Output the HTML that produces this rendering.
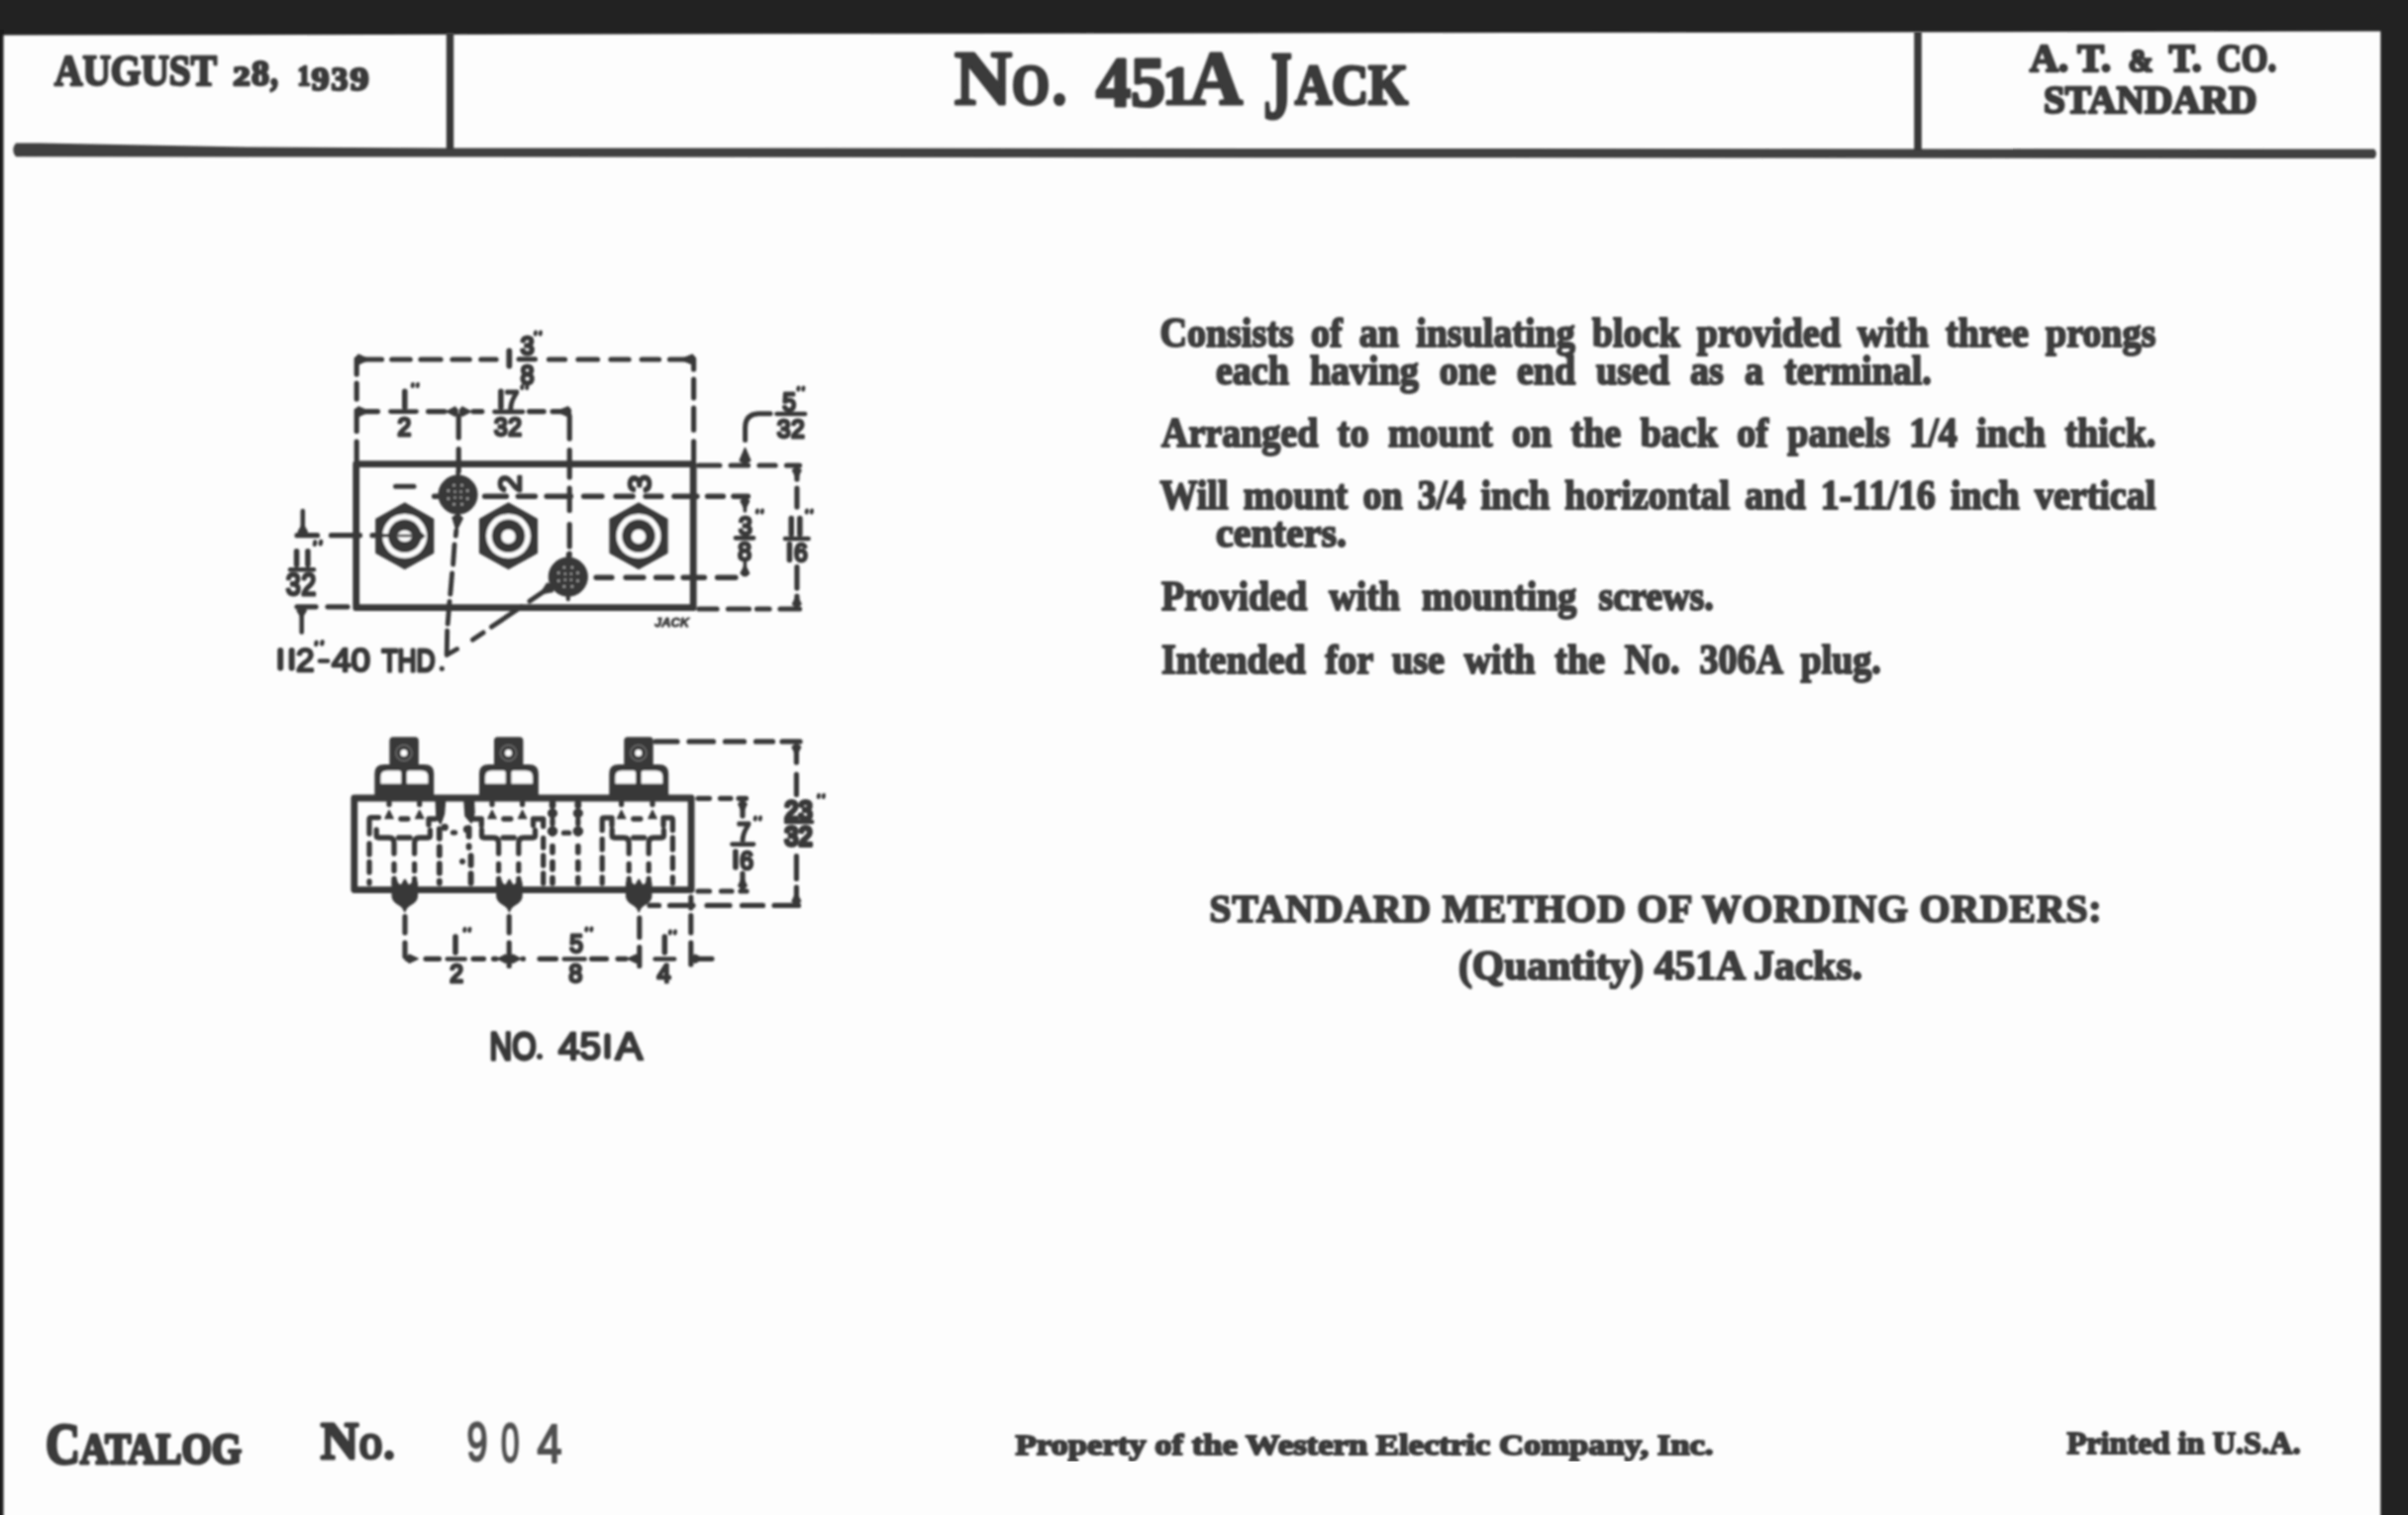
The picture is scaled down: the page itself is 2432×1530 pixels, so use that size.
<!DOCTYPE html>
<html><head><meta charset="utf-8"><title>No. 451A Jack</title>
<style>
html,body{margin:0;padding:0;background:#fdfdfd;}
body{width:2432px;height:1530px;overflow:hidden;font-family:"Liberation Serif",serif;}
svg{display:block;position:absolute;left:0;top:0;}
</style></head><body>
<svg width="2432" height="1530" viewBox="0 0 2432 1530">
<defs>
<filter id="soft" x="-2%" y="-2%" width="104%" height="104%"><feGaussianBlur stdDeviation="0.9"/></filter>
<filter id="soft2" x="-2%" y="-2%" width="104%" height="104%"><feGaussianBlur stdDeviation="1.2"/></filter>
</defs>
<rect x="0" y="0" width="2432" height="1530" fill="#fdfdfd"/>
<g fill="#3a3a3a" stroke="#3a3a3a" stroke-linejoin="round">
<g stroke="none" filter="url(#soft)">
<polygon points="-5,-5 2440,-5 2440,31.6 -5,35.6" fill="#232323"/>
<rect x="2404.3" y="-5" width="40" height="1545" fill="#242424"/>
<rect x="-5" y="30" width="8.5" height="1510" fill="#1c1c1c"/>
</g>
<g filter="url(#soft)">
<path d="M16 144.6 L40 144.6 L250 148.4 L450 149.4 L2398 150.6 Q2402 155.3 2398 160 L16 158.2 Q10.5 151.4 16 144.6Z" stroke="none" fill="#404040"/>
<rect x="450.8" y="33" width="7.4" height="118" stroke="none" fill="#383838"/>
<rect x="1933.2" y="32" width="7.6" height="120" stroke="none" fill="#383838"/>
</g>
<g filter="url(#soft)">
<text x="55" y="86" font-family="Liberation Serif, serif" font-size="44.5" font-weight="bold" textLength="164" lengthAdjust="spacingAndGlyphs" stroke="#3a3a3a" stroke-width="2.6" stroke-linejoin="round">AUGUST</text>
<text x="235.5" y="86" font-family="Liberation Serif, serif" font-size="27.5" font-weight="bold" textLength="17" lengthAdjust="spacingAndGlyphs" stroke="#3a3a3a" stroke-width="2.6" stroke-linejoin="round">2</text>
<text x="254" y="86" font-family="Liberation Serif, serif" font-size="36.5" font-weight="bold" textLength="18" lengthAdjust="spacingAndGlyphs" stroke="#3a3a3a" stroke-width="2.6" stroke-linejoin="round">8</text>
<text x="273" y="86" font-family="Liberation Serif, serif" font-size="40" font-weight="bold" textLength="8" lengthAdjust="spacingAndGlyphs" stroke="#3a3a3a" stroke-width="2.6" stroke-linejoin="round">,</text>
<text x="300.5" y="86" font-family="Liberation Serif, serif" font-size="29" font-weight="bold" textLength="13" lengthAdjust="spacingAndGlyphs" stroke="#3a3a3a" stroke-width="2.6" stroke-linejoin="round">1</text>
<text x="314.5" y="90.5" font-family="Liberation Serif, serif" font-size="34.5" font-weight="bold" textLength="18" lengthAdjust="spacingAndGlyphs" stroke="#3a3a3a" stroke-width="2.6" stroke-linejoin="round">9</text>
<text x="334.5" y="90.5" font-family="Liberation Serif, serif" font-size="34.5" font-weight="bold" textLength="17" lengthAdjust="spacingAndGlyphs" stroke="#3a3a3a" stroke-width="2.6" stroke-linejoin="round">3</text>
<text x="353.5" y="90.5" font-family="Liberation Serif, serif" font-size="34.5" font-weight="bold" textLength="19" lengthAdjust="spacingAndGlyphs" stroke="#3a3a3a" stroke-width="2.6" stroke-linejoin="round">9</text>
<text x="964" y="105" font-family="Liberation Serif, serif" font-size="78" font-weight="bold" textLength="58" lengthAdjust="spacingAndGlyphs" stroke="#3a3a3a" stroke-width="3.2" stroke-linejoin="round">N</text>
<text x="1022" y="105" font-family="Liberation Serif, serif" font-size="56" font-weight="bold" textLength="38" lengthAdjust="spacingAndGlyphs" stroke="#3a3a3a" stroke-width="3.2" stroke-linejoin="round">O</text>
<text x="1063" y="105" font-family="Liberation Serif, serif" font-size="62" font-weight="bold" textLength="14" lengthAdjust="spacingAndGlyphs" stroke="#3a3a3a" stroke-width="3.2" stroke-linejoin="round">.</text>
<text x="1107" y="107" font-family="Liberation Serif, serif" font-size="72" font-weight="bold" textLength="70" lengthAdjust="spacingAndGlyphs" stroke="#3a3a3a" stroke-width="3.2" stroke-linejoin="round">45</text>
<text x="1174.5" y="105" font-family="Liberation Serif, serif" font-size="54" font-weight="bold" textLength="29" lengthAdjust="spacingAndGlyphs" stroke="#3a3a3a" stroke-width="3.2" stroke-linejoin="round">1</text>
<text x="1201" y="105" font-family="Liberation Serif, serif" font-size="78" font-weight="bold" textLength="54" lengthAdjust="spacingAndGlyphs" stroke="#3a3a3a" stroke-width="3.2" stroke-linejoin="round">A</text>
<text x="1276" y="118.5" font-family="Liberation Serif, serif" font-size="97" font-weight="bold" textLength="29" lengthAdjust="spacingAndGlyphs" stroke="#3a3a3a" stroke-width="3.2" stroke-linejoin="round">J</text>
<text x="1308" y="105" font-family="Liberation Serif, serif" font-size="56" font-weight="bold" textLength="114" lengthAdjust="spacingAndGlyphs" stroke="#3a3a3a" stroke-width="3.2" stroke-linejoin="round">ACK</text>
<text x="2050" y="72" font-family="Liberation Serif, serif" font-size="40.5" font-weight="bold" textLength="82" lengthAdjust="spacingAndGlyphs" stroke="#3a3a3a" stroke-width="2.6" stroke-linejoin="round">A. T.</text>
<text x="2149.5" y="72" font-family="Liberation Serif, serif" font-size="31" font-weight="bold" textLength="25" lengthAdjust="spacingAndGlyphs" stroke="#3a3a3a" stroke-width="2.6" stroke-linejoin="round">&amp;</text>
<text x="2190.5" y="72" font-family="Liberation Serif, serif" font-size="40.5" font-weight="bold" textLength="33" lengthAdjust="spacingAndGlyphs" stroke="#3a3a3a" stroke-width="2.6" stroke-linejoin="round">T.</text>
<text x="2239" y="72" font-family="Liberation Serif, serif" font-size="40.5" font-weight="bold" textLength="60" lengthAdjust="spacingAndGlyphs" stroke="#3a3a3a" stroke-width="2.6" stroke-linejoin="round">CO.</text>
<text x="2064" y="113.5" font-family="Liberation Serif, serif" font-size="40.5" font-weight="bold" textLength="215.5" lengthAdjust="spacingAndGlyphs" stroke="#3a3a3a" stroke-width="2.6" stroke-linejoin="round">STANDARD</text>
</g>
<g filter="url(#soft)" fill="#3c3c3c">
<text transform="translate(1171.5,349.5) scale(0.905,1)" font-family="Liberation Serif, serif" font-weight="bold" font-size="42" word-spacing="8.54" stroke="#3c3c3c" stroke-width="2.1" stroke-linejoin="round">Consists of an insulating block provided with three prongs</text>
<text transform="translate(1228.0,387.5) scale(0.905,1)" font-family="Liberation Serif, serif" font-weight="bold" font-size="42" word-spacing="12.78" stroke="#3c3c3c" stroke-width="2.1" stroke-linejoin="round">each having one end used as a terminal.</text>
<text transform="translate(1173.0,451) scale(0.905,1)" font-family="Liberation Serif, serif" font-weight="bold" font-size="42" word-spacing="11.00" stroke="#3c3c3c" stroke-width="2.1" stroke-linejoin="round">Arranged to mount on the back of panels 1/4 inch thick.</text>
<text transform="translate(1171.5,514) scale(0.905,1)" font-family="Liberation Serif, serif" font-weight="bold" font-size="42" word-spacing="6.27" stroke="#3c3c3c" stroke-width="2.1" stroke-linejoin="round">Will mount on 3/4 inch horizontal and 1-11/16 inch vertical</text>
<text x="1228.0" y="551.5" font-family="Liberation Serif, serif" font-size="42" font-weight="bold" textLength="132" lengthAdjust="spacingAndGlyphs" stroke="#3c3c3c" stroke-width="2.1" stroke-linejoin="round">centers.</text>
<text transform="translate(1173.0,616) scale(0.905,1)" font-family="Liberation Serif, serif" font-weight="bold" font-size="42" word-spacing="13.91" stroke="#3c3c3c" stroke-width="2.1" stroke-linejoin="round">Provided with mounting screws.</text>
<text transform="translate(1173.0,680) scale(0.905,1)" font-family="Liberation Serif, serif" font-weight="bold" font-size="42" word-spacing="11.35" stroke="#3c3c3c" stroke-width="2.1" stroke-linejoin="round">Intended for use with the No. 306A plug.</text>
<text x="1221.5" y="931" font-family="Liberation Serif, serif" font-size="39.5" font-weight="bold" textLength="901" lengthAdjust="spacing" stroke="#3c3c3c" stroke-width="2.1" stroke-linejoin="round">STANDARD METHOD OF WORDING ORDERS:</text>
<text x="1473.0" y="989" font-family="Liberation Serif, serif" font-size="42" font-weight="bold" textLength="408" lengthAdjust="spacingAndGlyphs" stroke="#3c3c3c" stroke-width="2.1" stroke-linejoin="round">(Quantity) 451A Jacks.</text>
</g>
<g filter="url(#soft)">
<text x="46" y="1478" font-family="Liberation Serif, serif" font-size="60" font-weight="bold" textLength="35" lengthAdjust="spacingAndGlyphs" stroke="#3a3a3a" stroke-width="3.2" stroke-linejoin="round">C</text>
<text x="81" y="1477.5" font-family="Liberation Serif, serif" font-size="44" font-weight="bold" textLength="163" lengthAdjust="spacingAndGlyphs" stroke="#3a3a3a" stroke-width="3.2" stroke-linejoin="round">ATALOG</text>
<text x="324" y="1472.5" font-family="Liberation Serif, serif" font-size="53" font-weight="bold" textLength="38" lengthAdjust="spacingAndGlyphs" stroke="#3a3a3a" stroke-width="3.2" stroke-linejoin="round">N</text>
<text x="363" y="1472.5" font-family="Liberation Serif, serif" font-size="35" font-weight="bold" textLength="23" lengthAdjust="spacingAndGlyphs" stroke="#3a3a3a" stroke-width="3.2" stroke-linejoin="round">O</text>
<text x="388" y="1472.5" font-family="Liberation Serif, serif" font-size="40" font-weight="bold" textLength="10" lengthAdjust="spacingAndGlyphs" stroke="#3a3a3a" stroke-width="3.2" stroke-linejoin="round">.</text>
</g>
<g filter="url(#soft2)" fill="#505050">
<text x="471.5" y="1474.5" font-family="Liberation Sans, serif" font-size="56" font-weight="normal" textLength="21" lengthAdjust="spacingAndGlyphs" stroke="#505050" stroke-width="2.2">9</text>
<text x="506" y="1475.5" font-family="Liberation Sans, serif" font-size="56" font-weight="normal" textLength="18.5" lengthAdjust="spacingAndGlyphs" stroke="#505050" stroke-width="2.2">0</text>
<text x="542.5" y="1476.5" font-family="Liberation Sans, serif" font-size="56" font-weight="normal" textLength="25" lengthAdjust="spacingAndGlyphs" stroke="#505050" stroke-width="2.2">4</text>
</g>
<g filter="url(#soft)">
<text x="1025.5" y="1468.5" font-family="Liberation Serif, serif" font-size="30" font-weight="bold" textLength="705" lengthAdjust="spacingAndGlyphs" stroke="#3a3a3a" stroke-width="2.0" stroke-linejoin="round">Property of the Western Electric Company, Inc.</text>
<text x="2087.5" y="1467.5" font-family="Liberation Serif, serif" font-size="32" font-weight="bold" textLength="236" lengthAdjust="spacingAndGlyphs" stroke="#3a3a3a" stroke-width="2.0" stroke-linejoin="round">Printed in U.S.A.</text>
</g>
<g filter="url(#soft)" stroke="#383838" fill="#383838">
<rect x="359.7" y="468.7" width="340.5" height="145" fill="none" stroke-width="6.8"/>
<path d="M368.0 363H385.5 M395.8 363H414.2 M425.0 363H445.0 M457.0 363H474.2 M485.8 363H501.0 M554.5 363H570.5 M584.0 363H603.5 M617.0 363H635.0 M648.2 363H665.5 M676.5 363H692.0" fill="none" stroke-width="5.2" stroke-linecap="round"/>
<path d="M359.5 364.6 L362.0 367.8 L372.5 363.0 L362.0 358.2 L359.5 361.4Z" stroke-width="1.6"/>
<path d="M701.8 361.4 L699.3 358.2 L687.8 363.0 L699.3 367.8 L701.8 364.6Z" stroke-width="1.6"/>
<path d="M360.2 362.5V378.0 M360.2 387.0V403.0 M360.2 414.5V435.5 M360.2 446.0V464.0" fill="none" stroke-width="5.2" stroke-linecap="round"/>
<path d="M700.6 362.5V373.0 M700.6 383.2V401.8 M700.6 412.0V434.2 M700.6 445.8V464.5" fill="none" stroke-width="5.2" stroke-linecap="round"/>
<line x1="514.3" y1="354.5" x2="514.3" y2="369.5" stroke-width="5.8" stroke-linecap="round"/>
<line x1="524" y1="362.8" x2="540.5" y2="362.8" stroke-width="5" stroke-linecap="round"/>
<text x="532.5" y="357.5" text-anchor="middle" font-family="Liberation Sans, sans-serif" font-weight="normal" font-size="25" stroke-width="3.2" textLength="13.7" lengthAdjust="spacingAndGlyphs">3</text>
<text x="532.5" y="387.5" text-anchor="middle" font-family="Liberation Sans, sans-serif" font-weight="normal" font-size="27" stroke-width="3.2" textLength="13.7" lengthAdjust="spacingAndGlyphs">8</text>
<path d="M541 335.5l-0.4 2 M546 335.5l-0.4 2" stroke-width="3.9" stroke-linecap="round" fill="none"/>
<path d="M366.0 415.6H381.5 M432.6 415.6H449.0 M478.0 415.6H486.8 M534.5 415.6H549.2" fill="none" stroke-width="5.2" stroke-linecap="round"/>
<path d="M359.5 417.2 L362.0 420.4 L372.5 415.6 L362.0 410.9 L359.5 414.0Z" stroke-width="1.6"/>
<path d="M462.0 414.0 L459.5 411.1 L451.0 415.6 L459.5 420.1 L462.0 417.2Z" stroke-width="1.6"/>
<path d="M464.5 417.2 L467.0 420.1 L475.5 415.6 L467.0 411.1 L464.5 414.0Z" stroke-width="1.6"/>
<path d="M576.3 414.0 L573.8 410.9 L562.3 415.6 L573.8 420.4 L576.3 417.2Z" stroke-width="1.6"/>
<path d="M558.0 415.6H573.0" fill="none" stroke-width="5.2" stroke-linecap="round"/>
<path d="M408.8 395.3V411.3" stroke-width="5.6" stroke-linecap="round" fill="none"/>
<line x1="394.5" y1="415.6" x2="420.5" y2="415.6" stroke-width="4.7" stroke-linecap="round"/>
<text x="408.3" y="440" text-anchor="middle" font-family="Liberation Sans, sans-serif" font-weight="normal" font-size="26.5" stroke-width="3" textLength="13.7" lengthAdjust="spacingAndGlyphs">2</text>
<path d="M417 388l-0.4 2 M422 388l-0.4 2" stroke-width="3.9" stroke-linecap="round" fill="none"/>
<path d="M505.9 395.3V411.3" stroke-width="5.6" stroke-linecap="round" fill="none"/>
<text x="517.2" y="412.8" text-anchor="middle" font-family="Liberation Sans, sans-serif" font-weight="normal" font-size="26.5" stroke-width="3" textLength="13.7" lengthAdjust="spacingAndGlyphs">7</text>
<line x1="499.5" y1="415.8" x2="528" y2="415.8" stroke-width="4.7" stroke-linecap="round"/>
<text x="505.9" y="440" text-anchor="middle" font-family="Liberation Sans, sans-serif" font-weight="normal" font-size="26.5" stroke-width="3" textLength="13.7" lengthAdjust="spacingAndGlyphs">3</text>
<text x="520.1" y="440" text-anchor="middle" font-family="Liberation Sans, sans-serif" font-weight="normal" font-size="26.5" stroke-width="3" textLength="13.7" lengthAdjust="spacingAndGlyphs">2</text>
<path d="M527.5 390l-0.4 2 M532.5 390l-0.4 2" stroke-width="3.9" stroke-linecap="round" fill="none"/>
<path d="M463.2 420.0V442.0 M463.2 453.5V476.0" fill="none" stroke-width="5.2" stroke-linecap="round"/>
<path d="M575.2 420.0V443.0 M575.2 454.5V482.0 M575.2 493.0V515.5 M575.2 529.5V552.0 M575.2 559.0V561.0" fill="none" stroke-width="5.2" stroke-linecap="round"/>
<path d="M778 417.8 H766 Q752.6 418.5 752.6 432 V444.5" fill="none" stroke-width="5" stroke-linecap="round"/>
<path d="M754.1 467.5 L757.8 465.0 L752.5 452.5 L747.2 465.0 L750.9 467.5Z" stroke-width="1.6"/>
<text x="797.0" y="415" text-anchor="middle" font-family="Liberation Sans, sans-serif" font-weight="normal" font-size="26.5" stroke-width="3" textLength="13.7" lengthAdjust="spacingAndGlyphs">5</text>
<line x1="784.5" y1="418" x2="813" y2="418" stroke-width="4.7" stroke-linecap="round"/>
<text x="791.7" y="442" text-anchor="middle" font-family="Liberation Sans, sans-serif" font-weight="normal" font-size="26.5" stroke-width="3" textLength="13.7" lengthAdjust="spacingAndGlyphs">3</text>
<text x="805.9" y="442" text-anchor="middle" font-family="Liberation Sans, sans-serif" font-weight="normal" font-size="26.5" stroke-width="3" textLength="13.7" lengthAdjust="spacingAndGlyphs">2</text>
<path d="M806.5 391.5l-0.4 2 M811.5 391.5l-0.4 2" stroke-width="3.9" stroke-linecap="round" fill="none"/>
<path d="M705.8 470H726.8 M738.2 470H755.5 M767.0 470H783.0 M794.5 470H807.5" fill="none" stroke-width="5.2" stroke-linecap="round"/>
<path d="M706.0 615H724.0 M735.5 615H756.5 M764.5 615H777.0 M788.0 615H807.5" fill="none" stroke-width="5.2" stroke-linecap="round"/>
<path d="M438.6 501.2H441.9 M489.6 501.2H511.4 M523.3 501.2H540.4 M552.1 501.2H576.4 M589.6 501.2H607.9 M622.1 501.2H639.1 M652.1 501.2H667.9 M680.9 501.2H703.9 M714.6 501.2H730.4 M740.9 501.2H755.4" fill="none" stroke-width="5.4" stroke-linecap="round"/>
<path d="M602.1 583.2H617.9 M632.1 583.2H649.9 M662.6 583.2H678.9 M690.1 583.2H711.4 M724.6 583.2H742.9" fill="none" stroke-width="5.4" stroke-linecap="round"/>
<path d="M804.9 474.0V484.0 M804.9 493.0V512.0 M804.9 572.5V594.0 M804.9 602.0V611.0" fill="none" stroke-width="5.2" stroke-linecap="round"/>
<path d="M803.2 472.5 L800.5 475.0 L804.8 483.5 L809.0 475.0 L806.4 472.5Z" stroke-width="1.6"/>
<path d="M806.4 612.5 L809.0 610.0 L804.8 601.5 L800.5 610.0 L803.2 612.5Z" stroke-width="1.6"/>
<path d="M799.2 523.5V539.5" stroke-width="5.6" stroke-linecap="round" fill="none"/>
<path d="M807.8 523.5V539.5" stroke-width="5.6" stroke-linecap="round" fill="none"/>
<line x1="793" y1="544" x2="816.5" y2="544" stroke-width="4.7" stroke-linecap="round"/>
<path d="M797.4 549.5V565.5" stroke-width="5.6" stroke-linecap="round" fill="none"/>
<text x="808.8" y="567" text-anchor="middle" font-family="Liberation Sans, sans-serif" font-weight="normal" font-size="26.5" stroke-width="3" textLength="13.7" lengthAdjust="spacingAndGlyphs">6</text>
<path d="M815 515.5l-0.4 2 M820 515.5l-0.4 2" stroke-width="3.9" stroke-linecap="round" fill="none"/>
<path d="M750.8 503.5 L748.1 506.0 L752.4 514.5 L756.6 506.0 L754.0 503.5Z" stroke-width="1.6"/>
<line x1="752.4" y1="512" x2="752.4" y2="516" stroke-width="3.6" stroke-linecap="round"/>
<path d="M754.0 581.5 L756.6 579.0 L752.4 570.5 L748.1 579.0 L750.8 581.5Z" stroke-width="1.6"/>
<line x1="752.4" y1="568" x2="752.4" y2="572" stroke-width="3.6" stroke-linecap="round"/>
<text x="752.8" y="539.5" text-anchor="middle" font-family="Liberation Sans, sans-serif" font-weight="normal" font-size="26.5" stroke-width="3" textLength="13.7" lengthAdjust="spacingAndGlyphs">3</text>
<line x1="743" y1="543.3" x2="761" y2="543.3" stroke-width="4.7" stroke-linecap="round"/>
<text x="752.0" y="566" text-anchor="middle" font-family="Liberation Sans, sans-serif" font-weight="normal" font-size="26.5" stroke-width="3" textLength="13.7" lengthAdjust="spacingAndGlyphs">8</text>
<path d="M765 515.5l-0.4 2 M770 515.5l-0.4 2" stroke-width="3.9" stroke-linecap="round" fill="none"/>
<path d="M300.0 540.7H320.5 M334.5 540.7H363.5 M376.0 540.7H386.0" fill="none" stroke-width="5.2" stroke-linecap="round"/>
<path d="M300.0 612.8H319.0 M331.0 612.8H351.0" fill="none" stroke-width="5.2" stroke-linecap="round"/>
<line x1="305.8" y1="516" x2="305.8" y2="537" stroke-width="4.6" stroke-linecap="round"/>
<path d="M307.4 539.5 L310.3 537.0 L305.8 529.5 L301.3 537.0 L304.2 539.5Z" stroke-width="1.6"/>
<line x1="304.7" y1="616" x2="304.7" y2="638.5" stroke-width="4.6" stroke-linecap="round"/>
<path d="M303.1 614.0 L300.2 616.5 L304.7 624.0 L309.2 616.5 L306.3 614.0Z" stroke-width="1.6"/>
<line x1="299.6" y1="556.7" x2="299.6" y2="570.3" stroke-width="5.6" stroke-linecap="round"/>
<line x1="310.9" y1="556.7" x2="310.9" y2="570.3" stroke-width="5.6" stroke-linecap="round"/>
<path d="M318.3 547.3l-0.5 2.6 M324.2 546.8l-0.5 2.6" stroke-width="4.3" stroke-linecap="round" fill="none"/>
<line x1="293" y1="575.3" x2="317" y2="575.3" stroke-width="4.4" stroke-linecap="round"/>
<text x="296.2" y="600.5" text-anchor="middle" font-family="Liberation Sans, sans-serif" font-weight="normal" font-size="31" stroke-width="3" textLength="15.0" lengthAdjust="spacingAndGlyphs">3</text>
<text x="311.8" y="600.5" text-anchor="middle" font-family="Liberation Sans, sans-serif" font-weight="normal" font-size="31" stroke-width="3" textLength="15.0" lengthAdjust="spacingAndGlyphs">2</text>
<polygon points="408.75,508.09999999999997 437.65,524.3 437.65,558.3 408.75,574.5 379.85,558.3 379.85,524.3" stroke-width="1.4"/>
<circle cx="408.75" cy="541.3" r="22.4" fill="#fdfdfd" stroke="none"/>
<circle cx="408.75" cy="541.3" r="16.8" stroke="none"/>
<ellipse cx="408.75" cy="541.3" rx="7.2" ry="5.8" fill="#fdfdfd" stroke="none"/>
<path d="M401.75 541.0H415.75" stroke-width="2.6" fill="none"/>
<path d="M378.75 540.6999999999999H393.75" stroke-width="3.6" fill="none" stroke-linecap="round"/>
<path d="M423.75 536.3 L429.25 541.3 L423.75 546.3Z" stroke-width="1"/>
<polygon points="513.5,508.09999999999997 542.4,524.3 542.4,558.3 513.5,574.5 484.6,558.3 484.6,524.3" stroke-width="1.4"/>
<circle cx="513.5" cy="541.3" r="22.4" fill="#fdfdfd" stroke="none"/>
<circle cx="513.5" cy="541.3" r="16.8" stroke="none"/>
<circle cx="513.5" cy="541.9" r="7.2" fill="#fdfdfd" stroke="none"/>
<polygon points="645,508.09999999999997 673.9,524.3 673.9,558.3 645,574.5 616.1,558.3 616.1,524.3" stroke-width="1.4"/>
<circle cx="645" cy="541.3" r="22.4" fill="#fdfdfd" stroke="none"/>
<circle cx="645" cy="541.3" r="16.8" stroke="none"/>
<circle cx="645" cy="541.9" r="7.2" fill="#fdfdfd" stroke="none"/>
<circle cx="462.5" cy="499.6" r="19.6" stroke-width="1"/>
<path d="M462.5 476.5V522.2" stroke-width="4" stroke-linecap="round" fill="none"/>
<circle cx="472.2" cy="503.6" r="1.5" fill="#9a9a9a" stroke="none"/>
<circle cx="466.5" cy="509.3" r="1.5" fill="#9a9a9a" stroke="none"/>
<circle cx="458.5" cy="509.3" r="1.5" fill="#9a9a9a" stroke="none"/>
<circle cx="452.8" cy="503.6" r="1.5" fill="#9a9a9a" stroke="none"/>
<circle cx="452.8" cy="495.6" r="1.5" fill="#9a9a9a" stroke="none"/>
<circle cx="458.5" cy="489.9" r="1.5" fill="#9a9a9a" stroke="none"/>
<circle cx="466.5" cy="489.9" r="1.5" fill="#9a9a9a" stroke="none"/>
<circle cx="472.2" cy="495.6" r="1.5" fill="#9a9a9a" stroke="none"/>
<circle cx="465.5" cy="502.6" r="1.3" fill="#989898" stroke="none"/>
<circle cx="459.5" cy="502.6" r="1.3" fill="#989898" stroke="none"/>
<circle cx="459.5" cy="496.6" r="1.3" fill="#989898" stroke="none"/>
<circle cx="465.5" cy="496.6" r="1.3" fill="#989898" stroke="none"/>
<circle cx="573.8" cy="582.6" r="19.6" stroke-width="1"/>
<path d="M573.8 559.5V605.2" stroke-width="4" stroke-linecap="round" fill="none"/>
<circle cx="583.5" cy="586.6" r="1.5" fill="#9a9a9a" stroke="none"/>
<circle cx="577.8" cy="592.3" r="1.5" fill="#9a9a9a" stroke="none"/>
<circle cx="569.8" cy="592.3" r="1.5" fill="#9a9a9a" stroke="none"/>
<circle cx="564.1" cy="586.6" r="1.5" fill="#9a9a9a" stroke="none"/>
<circle cx="564.1" cy="578.6" r="1.5" fill="#9a9a9a" stroke="none"/>
<circle cx="569.8" cy="572.9" r="1.5" fill="#9a9a9a" stroke="none"/>
<circle cx="577.8" cy="572.9" r="1.5" fill="#9a9a9a" stroke="none"/>
<circle cx="583.5" cy="578.6" r="1.5" fill="#9a9a9a" stroke="none"/>
<circle cx="576.8" cy="585.6" r="1.3" fill="#989898" stroke="none"/>
<circle cx="570.8" cy="585.6" r="1.3" fill="#989898" stroke="none"/>
<circle cx="570.8" cy="579.6" r="1.3" fill="#989898" stroke="none"/>
<circle cx="576.8" cy="579.6" r="1.3" fill="#989898" stroke="none"/>
<path d="M460.7 520.4 L457.1 522.6 L461.1 535.5 L467.1 523.4 L463.9 520.6Z" stroke-width="1.6"/>
<path d="M460.8 536L460.3 541 M459 550L457.6 570 M456.6 579L454.8 600 M454 607.5L452.2 630 M451.7 637L451.2 661.5L461.5 655.5" fill="none" stroke-width="4.9" stroke-linecap="round"/>
<path d="M477.5 646L488 639 M496.5 633L526.5 612.8 M535 607L554 594" fill="none" stroke-width="5" stroke-linecap="round"/>
<path d="M556.6 590.7 L552.6 589.3 L545.9 599.8 L558.2 597.5 L558.4 593.3Z" stroke-width="1.6"/>
<line x1="399.5" y1="491.3" x2="418" y2="491.3" stroke-width="5" stroke-linecap="round"/>
<text transform="translate(525.5,497.5) rotate(-90)" font-family="Liberation Sans, sans-serif" font-weight="normal" font-size="31" stroke-width="2.8" textLength="18" lengthAdjust="spacingAndGlyphs">2</text>
<text transform="translate(656.8,497.5) rotate(-90)" font-family="Liberation Sans, sans-serif" font-weight="normal" font-size="31" stroke-width="2.8" textLength="18" lengthAdjust="spacingAndGlyphs">3</text>
<text x="661" y="633" font-family="Liberation Sans, sans-serif" font-weight="bold" font-style="italic" font-size="12.5" textLength="35" lengthAdjust="spacingAndGlyphs" stroke-width="0.8">JACK</text>
<line x1="283.2" y1="657" x2="283.2" y2="674.5" stroke-width="6" stroke-linecap="round"/>
<line x1="294.6" y1="657" x2="294.6" y2="674.5" stroke-width="6" stroke-linecap="round"/>
<text x="299" y="677.5" font-family="Liberation Sans, sans-serif" font-weight="normal" font-size="33" stroke-width="2.5" textLength="18.5" lengthAdjust="spacingAndGlyphs">2</text>
<path d="M319.6 648.6l-0.4 2.2 M325.6 648.2l-0.4 2.2" stroke-width="4.3" stroke-linecap="round" fill="none"/>
<line x1="323" y1="667.5" x2="331" y2="667.5" stroke-width="4.6" stroke-linecap="round"/>
<text x="335" y="677.5" font-family="Liberation Sans, sans-serif" font-weight="normal" font-size="33" stroke-width="2.5" textLength="39" lengthAdjust="spacingAndGlyphs">40</text>
<text x="385.5" y="677.5" font-family="Liberation Sans, sans-serif" font-weight="normal" font-size="32" stroke-width="3.1" textLength="54" lengthAdjust="spacingAndGlyphs">THD</text>
<circle cx="446.3" cy="675.3" r="2.2"/>
</g>
<g filter="url(#soft)" stroke="#383838" fill="#383838">
<rect x="357.8" y="806" width="340.3" height="92.6" fill="none" stroke-width="6.8"/>
<rect x="394.1" y="745" width="28" height="29" rx="3.2" stroke-width="1.5"/>
<circle cx="407.90000000000003" cy="760.4" r="8" fill="none" stroke="#6a6a6a" stroke-width="1.6"/>
<circle cx="407.90000000000003" cy="760.4" r="3.4" fill="#fdfdfd" stroke="none"/>
<path d="M379.1 806 V781 Q379.1 772.8 388.1 772.8 H428.6 Q437.5 772.8 437.5 781 V806Z" stroke-width="1.5"/>
<path d="M384.5 791.6 V784.5 Q384.5 778.2 391.1 778.2 H403.1 Q405.1 778.2 405.1 780.5 V791.6Z" fill="#fdfdfd" stroke="none"/>
<path d="M432.3 791.6 V784.5 Q432.3 778.2 425.6 778.2 H412.90000000000003 Q410.90000000000003 778.2 410.90000000000003 780.5 V791.6Z" fill="#fdfdfd" stroke="none"/>
<rect x="499.70000000000005" y="745" width="28" height="29" rx="3.2" stroke-width="1.5"/>
<circle cx="513.5" cy="760.4" r="8" fill="none" stroke="#6a6a6a" stroke-width="1.6"/>
<circle cx="513.5" cy="760.4" r="3.4" fill="#fdfdfd" stroke="none"/>
<path d="M484.70000000000005 806 V781 Q484.70000000000005 772.8 493.70000000000005 772.8 H534.2 Q543.1 772.8 543.1 781 V806Z" stroke-width="1.5"/>
<path d="M490.1 791.6 V784.5 Q490.1 778.2 496.70000000000005 778.2 H508.70000000000005 Q510.70000000000005 778.2 510.70000000000005 780.5 V791.6Z" fill="#fdfdfd" stroke="none"/>
<path d="M537.9000000000001 791.6 V784.5 Q537.9000000000001 778.2 531.2 778.2 H518.5 Q516.5 778.2 516.5 780.5 V791.6Z" fill="#fdfdfd" stroke="none"/>
<rect x="631" y="745" width="28" height="29" rx="3.2" stroke-width="1.5"/>
<circle cx="644.8" cy="760.4" r="8" fill="none" stroke="#6a6a6a" stroke-width="1.6"/>
<circle cx="644.8" cy="760.4" r="3.4" fill="#fdfdfd" stroke="none"/>
<path d="M616 806 V781 Q616 772.8 625 772.8 H665.5 Q674.4 772.8 674.4 781 V806Z" stroke-width="1.5"/>
<path d="M621.4 791.6 V784.5 Q621.4 778.2 628 778.2 H640 Q642 778.2 642 780.5 V791.6Z" fill="#fdfdfd" stroke="none"/>
<path d="M669.2 791.6 V784.5 Q669.2 778.2 662.5 778.2 H649.8 Q647.8 778.2 647.8 780.5 V791.6Z" fill="#fdfdfd" stroke="none"/>
<path d="M396.40000000000003 892 V905.5 Q397.1 910.5 402.6 913.2 Q407.40000000000003 915.5 408.8 920.5 Q410.20000000000005 915.5 415.0 913.2 Q420.6 910.5 421.20000000000005 905.5 V892 L418.8 885.5 L416.0 892.5 L412.6 895 L408.90000000000003 888.5 L405.1 895 L401.6 892.5 L398.8 885.5Z" stroke-width="1.8"/>
<path d="M502.00000000000006 892 V905.5 Q502.70000000000005 910.5 508.20000000000005 913.2 Q513.0 915.5 514.4000000000001 920.5 Q515.8000000000001 915.5 520.6 913.2 Q526.2 910.5 526.8000000000001 905.5 V892 L524.4000000000001 885.5 L521.6 892.5 L518.2 895 L514.5 888.5 L510.70000000000005 895 L507.20000000000005 892.5 L504.40000000000003 885.5Z" stroke-width="1.8"/>
<path d="M632.8 892 V905.5 Q633.5 910.5 639 913.2 Q643.8 915.5 645.2 920.5 Q646.6 915.5 651.4 913.2 Q657 910.5 657.6 905.5 V892 L655.2 885.5 L652.4 892.5 L649 895 L645.3 888.5 L641.5 895 L638 892.5 L635.2 885.5Z" stroke-width="1.8"/>
<path d="M393 811.0V812.5" fill="none" stroke-width="5.3" stroke-linecap="round"/>
<path d="M423.7 811.0V812.5" fill="none" stroke-width="5.3" stroke-linecap="round"/>
<path d="M393 818.5L397.0 826.5L389.0 826.5Z" stroke-width="1.6"/>
<path d="M423.7 818.5L427.7 826.5L419.7 826.5Z" stroke-width="1.6"/>
<path d="M404.9 827H411.8" fill="none" stroke-width="5.3" stroke-linecap="round"/>
<path d="M380.2 838 V844 Q380.2 846 382.7 846 H393 Q398 846 398 851.5 V862 M402.5 846 H414.1 M418.6 862 V851.5 Q418.6 846 423.6 846 H431.90000000000003 Q434.40000000000003 846 434.40000000000003 844 V838.5" fill="none" stroke-width="5.3" stroke-linecap="round"/>
<path d="M398 872.5V879.5 M398 887.5V892.0" fill="none" stroke-width="5.3" stroke-linecap="round"/>
<path d="M418.6 872.5V879.5 M418.6 887.5V892.0" fill="none" stroke-width="5.3" stroke-linecap="round"/>
<path d="M373 842 V827.5 Q373 825.6 375 825.6 H382.5" fill="none" stroke-width="5.3" stroke-linecap="round"/>
<path d="M373 852.0V863.0 M373 870.5V881.0 M373 890.0V892.0" fill="none" stroke-width="5.3" stroke-linecap="round"/>
<path d="M433 833 V827 H439.5" fill="none" stroke-width="5.3" stroke-linecap="round"/>
<path d="M440.3 809 L449.5 809 L448.5 822 L445 832 L441 826Z" stroke-width="1.5"/>
<path d="M443.8 837.2V846.8 M443.8 855.2V863.8 M443.8 872.2V881.8 M443.8 889.7V891.8" fill="none" stroke-width="5.8999999999999995" stroke-linecap="round"/>
<circle cx="449.2" cy="835.5" r="3.3"/><circle cx="471.8" cy="837.5" r="3.6"/><circle cx="467" cy="870" r="2.6"/>
<path d="M457.5 840.8H459.5" fill="none" stroke-width="5.3" stroke-linecap="round"/>
<path d="M469 809 L478.5 809 L479 821 L476 831 L470 824Z" stroke-width="1.5"/>
<path d="M473.6 836.2V844.8 M473.6 854.2V855.8" fill="none" stroke-width="5.8999999999999995" stroke-linecap="round"/>
<path d="M475.6 864.2V873.8 M475.6 882.2V891.8" fill="none" stroke-width="5.8999999999999995" stroke-linecap="round"/>
<path d="M497 811.0V812.5" fill="none" stroke-width="5.3" stroke-linecap="round"/>
<path d="M527.6 811.0V812.5" fill="none" stroke-width="5.3" stroke-linecap="round"/>
<path d="M497 818.5L501.0 826.5L493.0 826.5Z" stroke-width="1.6"/>
<path d="M527.6 818.5L531.6 826.5L523.6 826.5Z" stroke-width="1.6"/>
<path d="M508.8 827H515.8" fill="none" stroke-width="5.3" stroke-linecap="round"/>
<path d="M486.5 838 V844 Q486.5 846 489.0 846 H498.6 Q503.6 846 503.6 851.5 V862 M508.1 846 H519.3 M523.8 862 V851.5 Q523.8 846 528.8 846 H538.0 Q540.5 846 540.5 844 V838.5" fill="none" stroke-width="5.3" stroke-linecap="round"/>
<path d="M503.6 872.5V879.5 M503.6 887.5V892.0" fill="none" stroke-width="5.3" stroke-linecap="round"/>
<path d="M523.8 872.5V879.5 M523.8 887.5V892.0" fill="none" stroke-width="5.3" stroke-linecap="round"/>
<path d="M476.5 827 H486.3 V833.5" fill="none" stroke-width="5.3" stroke-linecap="round"/>
<path d="M538.5 833.5 V827 H548.7 V834.5" fill="none" stroke-width="5.3" stroke-linecap="round"/>
<path d="M548.7 846.5V856.0 M548.7 864.0V874.0 M548.7 882.0V892.0" fill="none" stroke-width="5.3" stroke-linecap="round"/>
<path d="M558 811.6V813.4" fill="none" stroke-width="6.8" stroke-linecap="round"/>
<circle cx="558" cy="821.3" r="4.6"/><circle cx="558" cy="839.5" r="4.8"/>
<path d="M558 828.0V832.0" fill="none" stroke-width="5.3" stroke-linecap="round"/>
<path d="M558 854.7V860.8 M558 870.7V877.8 M558 886.7V891.8" fill="none" stroke-width="5.7" stroke-linecap="round"/>
<path d="M583.8 811.6V813.4" fill="none" stroke-width="6.8" stroke-linecap="round"/>
<circle cx="583.8" cy="821.3" r="4.6"/><circle cx="583.8" cy="839.5" r="4.8"/>
<path d="M583.8 828.0V832.0" fill="none" stroke-width="5.3" stroke-linecap="round"/>
<path d="M583.8 854.7V860.8 M583.8 870.7V877.8 M583.8 886.7V891.8" fill="none" stroke-width="5.7" stroke-linecap="round"/>
<path d="M569.5 841.2H574.5" fill="none" stroke-width="5.3" stroke-linecap="round"/>
<path d="M627.6 811.0V812.5" fill="none" stroke-width="5.3" stroke-linecap="round"/>
<path d="M659 811.0V812.5" fill="none" stroke-width="5.3" stroke-linecap="round"/>
<path d="M627.6 818.5L631.6 826.5L623.6 826.5Z" stroke-width="1.6"/>
<path d="M659 818.5L663.0 826.5L655.0 826.5Z" stroke-width="1.6"/>
<path d="M639.8 827H646.8" fill="none" stroke-width="5.3" stroke-linecap="round"/>
<path d="M618.2 838 V844 Q618.2 846 620.7 846 H630.2 Q635.2 846 635.2 851.5 V862 M639.7 846 H650.7 M655.2 862 V851.5 Q655.2 846 660.2 846 H667.9 Q670.4 846 670.4 844 V838.5" fill="none" stroke-width="5.3" stroke-linecap="round"/>
<path d="M635.2 872.5V879.5 M635.2 887.5V892.0" fill="none" stroke-width="5.3" stroke-linecap="round"/>
<path d="M655.2 872.5V879.5 M655.2 887.5V892.0" fill="none" stroke-width="5.3" stroke-linecap="round"/>
<path d="M608.2 838.5 V827.5 Q608.2 825.8 610 825.8 H618 V833.5" fill="none" stroke-width="5.3" stroke-linecap="round"/>
<path d="M608.2 847.5V858.0 M608.2 866.0V878.0 M608.2 886.0V892.0" fill="none" stroke-width="5.3" stroke-linecap="round"/>
<path d="M670 833.5 V825.8 H677.5 Q679.4 825.8 679.4 828 V838.5" fill="none" stroke-width="5.3" stroke-linecap="round"/>
<path d="M679.4 846.0V858.0 M679.4 866.0V877.0 M679.4 886.0V892.0" fill="none" stroke-width="5.3" stroke-linecap="round"/>
<path d="M409 925.5V942.0 M409 952.0V966.0" fill="none" stroke-width="5.2" stroke-linecap="round"/>
<path d="M514.2 925.5V942.0 M514.2 952.0V975.5" fill="none" stroke-width="5.2" stroke-linecap="round"/>
<path d="M645.8 927.0V946.5 M645.8 956.5V975.5" fill="none" stroke-width="5.2" stroke-linecap="round"/>
<path d="M697.8 906.0V917.0 M697.8 924.5V942.0 M697.8 952.0V974.0" fill="none" stroke-width="5.2" stroke-linecap="round"/>
<path d="M411.0 968.3H411.1 M430.0 968.3H443.5 M478.0 968.3H488.5 M498.5 968.3H501.0 M528.0 968.3H528.5 M545.0 968.3H561.5 M597.5 968.3H612.5 M624.0 968.3H632.0 M702.0 968.3H719.0" fill="none" stroke-width="5.2" stroke-linecap="round"/>
<path d="M411.0 969.9 L413.5 972.3 L422.0 968.3 L413.5 964.3 L411.0 966.7Z" stroke-width="1.6"/>
<path d="M513.0 966.7 L510.5 964.3 L503.0 968.3 L510.5 972.3 L513.0 969.9Z" stroke-width="1.6"/>
<path d="M515.5 969.9 L518.0 972.3 L525.5 968.3 L518.0 964.3 L515.5 966.7Z" stroke-width="1.6"/>
<path d="M645.0 966.7 L642.5 964.3 L634.0 968.3 L642.5 972.3 L645.0 969.9Z" stroke-width="1.6"/>
<path d="M699.5 969.9 L702.0 972.3 L709.5 968.3 L702.0 964.3 L699.5 966.7Z" stroke-width="1.6"/>
<path d="M460.0 946.0V962.0" stroke-width="5.6" stroke-linecap="round" fill="none"/>
<line x1="451.8" y1="968.5" x2="469.6" y2="968.5" stroke-width="4.7" stroke-linecap="round"/>
<text x="461.0" y="992" text-anchor="middle" font-family="Liberation Sans, sans-serif" font-weight="normal" font-size="26.5" stroke-width="3" textLength="13.7" lengthAdjust="spacingAndGlyphs">2</text>
<path d="M469.5 938l-0.4 2 M474.5 938l-0.4 2" stroke-width="3.9" stroke-linecap="round" fill="none"/>
<text x="582.0" y="962" text-anchor="middle" font-family="Liberation Sans, sans-serif" font-weight="normal" font-size="26.5" stroke-width="3" textLength="13.7" lengthAdjust="spacingAndGlyphs">5</text>
<line x1="569.8" y1="968.5" x2="590.6" y2="968.5" stroke-width="4.7" stroke-linecap="round"/>
<text x="581.3" y="992" text-anchor="middle" font-family="Liberation Sans, sans-serif" font-weight="normal" font-size="26.5" stroke-width="3" textLength="13.7" lengthAdjust="spacingAndGlyphs">8</text>
<path d="M592.5 937.5l-0.4 2 M597.5 937.5l-0.4 2" stroke-width="3.9" stroke-linecap="round" fill="none"/>
<path d="M671.3 946.0V962.0" stroke-width="5.6" stroke-linecap="round" fill="none"/>
<line x1="661.7" y1="968.5" x2="681" y2="968.5" stroke-width="4.7" stroke-linecap="round"/>
<text x="670.6" y="991.8" text-anchor="middle" font-family="Liberation Sans, sans-serif" font-weight="normal" font-size="26.5" stroke-width="3" textLength="13.7" lengthAdjust="spacingAndGlyphs">4</text>
<path d="M677 940.5l-0.4 2 M682 940.5l-0.4 2" stroke-width="3.9" stroke-linecap="round" fill="none"/>
<path d="M662.1 748.9H683.9 M696.1 748.9H720.4 M732.6 748.9H751.4 M763.6 748.9H780.4 M790.1 748.9H807.9" fill="none" stroke-width="5.4" stroke-linecap="round"/>
<path d="M705.0 806.3H716.5 M727.5 806.3H738.0 M746.0 806.3H753.5" fill="none" stroke-width="5.2" stroke-linecap="round"/>
<path d="M705.0 900H716.5 M728.5 900H739.0 M748.0 900H754.0" fill="none" stroke-width="5.2" stroke-linecap="round"/>
<path d="M656.1 914.4H665.4 M676.6 914.4H699.9 M714.1 914.4H736.9 M749.6 914.4H770.4 M782.1 914.4H806.4" fill="none" stroke-width="5.4" stroke-linecap="round"/>
<path d="M804.4 754.0V770.0 M804.4 782.0V802.5 M804.4 864.5V887.5 M804.4 896.0V910.0" fill="none" stroke-width="5.2" stroke-linecap="round"/>
<path d="M802.8 752.0 L800.1 754.5 L804.4 763.0 L808.6 754.5 L806.0 752.0Z" stroke-width="1.6"/>
<path d="M806.0 912.5 L808.6 910.0 L804.4 901.5 L800.1 910.0 L802.8 912.5Z" stroke-width="1.6"/>
<text x="799.4" y="828" text-anchor="middle" font-family="Liberation Sans, sans-serif" font-weight="normal" font-size="27" stroke-width="4.2" textLength="13.7" lengthAdjust="spacingAndGlyphs">2</text>
<text x="813.6" y="828" text-anchor="middle" font-family="Liberation Sans, sans-serif" font-weight="normal" font-size="27" stroke-width="4.2" textLength="13.7" lengthAdjust="spacingAndGlyphs">3</text>
<line x1="794" y1="830" x2="820" y2="830" stroke-width="4.7" stroke-linecap="round"/>
<text x="799.4" y="853.5" text-anchor="middle" font-family="Liberation Sans, sans-serif" font-weight="normal" font-size="27" stroke-width="4.2" textLength="13.7" lengthAdjust="spacingAndGlyphs">3</text>
<text x="813.6" y="853.5" text-anchor="middle" font-family="Liberation Sans, sans-serif" font-weight="normal" font-size="27" stroke-width="4.2" textLength="13.7" lengthAdjust="spacingAndGlyphs">2</text>
<path d="M827 803l-0.4 2 M832 803l-0.4 2" stroke-width="3.9" stroke-linecap="round" fill="none"/>
<path d="M750 810.0V824.0 M750 882.0V896.0" fill="none" stroke-width="5.2" stroke-linecap="round"/>
<path d="M748.4 809.5 L745.8 812.0 L750.0 820.5 L754.2 812.0 L751.6 809.5Z" stroke-width="1.6"/>
<path d="M751.6 897.0 L754.2 894.5 L750.0 886.0 L745.8 894.5 L748.4 897.0Z" stroke-width="1.6"/>
<text x="751.3" y="848.5" text-anchor="middle" font-family="Liberation Sans, sans-serif" font-weight="normal" font-size="26.5" stroke-width="3" textLength="13.7" lengthAdjust="spacingAndGlyphs">7</text>
<line x1="739.5" y1="852.6" x2="761" y2="852.6" stroke-width="4.7" stroke-linecap="round"/>
<path d="M742.9 860.0V876.0" stroke-width="5.6" stroke-linecap="round" fill="none"/>
<text x="754.2" y="877.5" text-anchor="middle" font-family="Liberation Sans, sans-serif" font-weight="normal" font-size="26.5" stroke-width="3" textLength="13.7" lengthAdjust="spacingAndGlyphs">6</text>
<path d="M763 825.5l-0.4 2 M768 825.5l-0.4 2" stroke-width="3.9" stroke-linecap="round" fill="none"/>
<text x="494.5" y="1069.5" font-family="Liberation Sans, sans-serif" font-weight="normal" font-size="38" textLength="47" lengthAdjust="spacingAndGlyphs" stroke-width="3.4">NO</text>
<circle cx="545" cy="1067" r="2.6"/>
<text x="564" y="1069.5" font-family="Liberation Sans, sans-serif" font-weight="normal" font-size="38" textLength="43" lengthAdjust="spacingAndGlyphs" stroke-width="2.7">45</text>
<line x1="613.5" y1="1046.5" x2="613.5" y2="1066.5" stroke-width="6.4" stroke-linecap="round"/>
<text x="621.5" y="1069.5" font-family="Liberation Sans, sans-serif" font-weight="normal" font-size="38" textLength="27.5" lengthAdjust="spacingAndGlyphs" stroke-width="2.7">A</text>
</g>
</g>
</svg>
</body></html>
